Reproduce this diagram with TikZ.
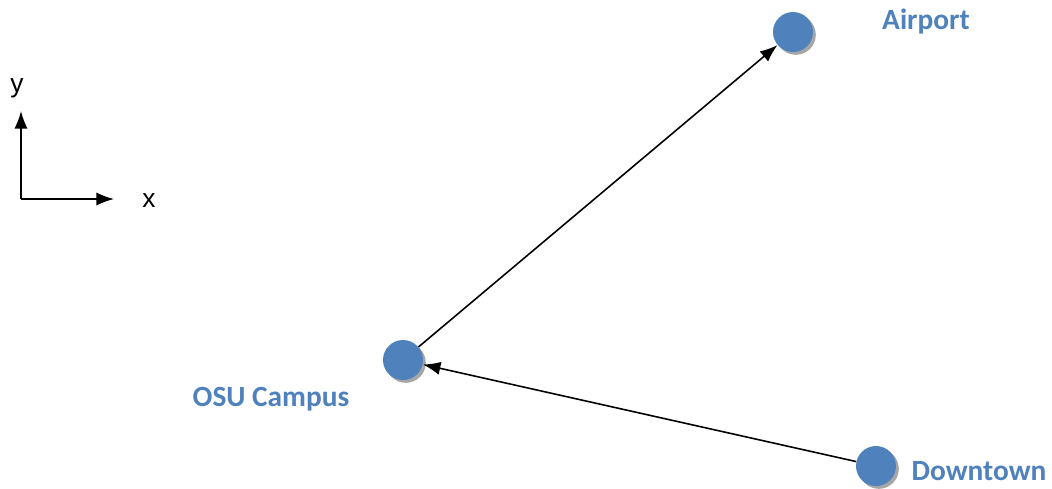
\documentclass[tikz,border=0pt]{standalone}
\usepackage{fontspec}
\usepackage{xcolor}
\usepackage{tikz}
\usetikzlibrary{arrows.meta, positioning, shadows}
\setmainfont{Liberation Sans}
\newfontfamily\labelfont{Carlito}

\begin{document}
\begin{tikzpicture}[x=0.02cm,y=-0.02cm]
\definecolor{place}{RGB}{79,129,189}
\tikzset{
  stop/.style={circle, fill=place, minimum size=40*0.02cm, inner sep=0pt,
    drop shadow={shadow xshift=1.6pt, shadow yshift=-1.6pt, fill=black!35, opacity=1}},
  placelabel/.style={text=place, font=\labelfont\bfseries\fontsize{16.7}{19}\selectfont},
  axislabel/.style={font=\fontsize{15}{17}\selectfont},
  route/.style={-{Latex[length=10pt,width=7.5pt]}, line width=0.9pt}
}
\useasboundingbox (0,0) rectangle (1052,488);

% Axes
\coordinate (o) at (21,199);
\coordinate (ytip) at (21,111);
\coordinate (xtip) at (114,199);
\draw[route] (o) -- (ytip);
\draw[route] (o) -- (xtip);
\node[axislabel] (ylab) at (17,88) {y};
\node[axislabel] (xlab) at (149,201) {x};

% Places
\node[stop] (airport) at (793,32) {};
\node[stop] (campus) at (403,360) {};
\node[stop] (downtown) at (876,466) {};

% Labels
\node[placelabel] (airportlab) at (926,22) {Airport};
\node[placelabel] (campuslab) at (271,399) {OSU Campus};
\node[placelabel] (downtownlab) at (979,471) {Downtown};

% Routes
\draw[route] (downtown) -- (campus);
\draw[route] (campus) -- (airport);

\end{tikzpicture}
\end{document}
